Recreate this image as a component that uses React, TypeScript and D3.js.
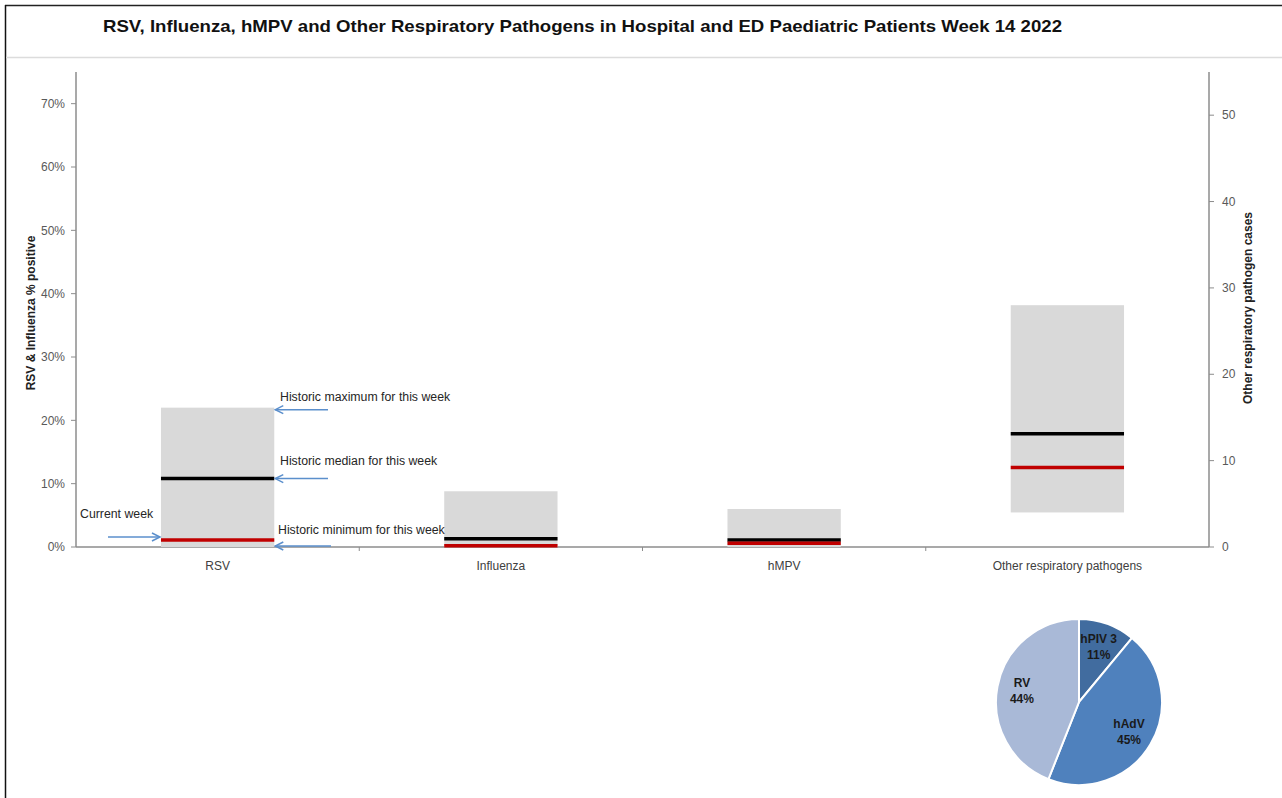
import { useEffect, useRef } from "react";
import * as d3 from "d3";

const categories = ["RSV", "Influenza", "hMPV", "Other respiratory pathogens"];
// which axis each category is read against
const axisSide = ["left", "left", "left", "right"];
const historicMax = [0.22, 0.088, 0.06, 28];
const historicMedian = [0.108, 0.013, 0.011, 13.1];
const historicMin = [0, 0, 0, 4];
const currentWeek = [0.011, 0.002, 0.006, 9.2];

const leftTicks = [0, 0.1, 0.2, 0.3, 0.4, 0.5, 0.6, 0.7];
const rightTicks = [0, 10, 20, 30, 40, 50];

const pieLabels = ["hPIV 3", "hAdV", "RV"];
const pieValues = [11, 45, 44];
const pieColors = ["#416C9F", "#4F81BD", "#A9B9D7"];

const FONT = "'Liberation Sans', Arial, sans-serif";

const App = () => {
  const svgRef = useRef<SVGSVGElement>(null);

  useEffect(() => {
    if (!svgRef.current) return;
    d3.select(svgRef.current).selectAll("*").remove();

    const width = 1282;
    const height = 798;
    const plot = { left: 76, right: 1209, top: 72, bottom: 547 };

    const svg = d3.select(svgRef.current)
      .attr("width", width)
      .attr("height", height)
      .style("font-family", FONT);

    svg.append("rect").attr("width", width).attr("height", height).attr("fill", "#fff");

    // frame
    svg.append("line").attr("x1", 5).attr("x2", width).attr("y1", 5.5).attr("y2", 5.5)
      .attr("stroke", "#222").attr("stroke-width", 1.5);
    svg.append("line").attr("x1", 5.5).attr("x2", 5.5).attr("y1", 5).attr("y2", height)
      .attr("stroke", "#111").attr("stroke-width", 1.5);
    svg.append("line").attr("x1", 6).attr("x2", width).attr("y1", 57.5).attr("y2", 57.5)
      .attr("stroke", "#dcdcdc").attr("stroke-width", 1.5);

    svg.append("text")
      .attr("x", 103).attr("y", 32)
      .attr("textLength", 959).attr("lengthAdjust", "spacingAndGlyphs")
      .style("font-size", "17px").style("font-weight", "700").style("fill", "#111")
      .text("RSV, Influenza, hMPV and Other Respiratory Pathogens in Hospital and ED Paediatric Patients Week 14 2022");

    const yLeft = d3.scaleLinear().domain([0, 0.75]).range([plot.bottom, plot.top]);
    const yRight = d3.scaleLinear().domain([0, 55]).range([plot.bottom, plot.top]);
    const x = d3.scaleBand().domain(categories).range([plot.left, plot.right])
      .paddingInner(0.6).paddingOuter(0.3);
    const step = x.step();
    const yFor = (i: number) => (axisSide[i] === "left" ? yLeft : yRight);

    const axisColor = "#8c8c8c";
    const tickColor = "#595959";

    // left axis
    const gl = svg.append("g");
    gl.append("line").attr("x1", plot.left).attr("x2", plot.left)
      .attr("y1", plot.top).attr("y2", plot.bottom).attr("stroke", axisColor).attr("stroke-width", 1.5);
    leftTicks.forEach(t => {
      gl.append("line").attr("x1", plot.left - 5).attr("x2", plot.left)
        .attr("y1", yLeft(t)).attr("y2", yLeft(t)).attr("stroke", axisColor);
      gl.append("text").attr("x", plot.left - 11).attr("y", yLeft(t)).attr("dy", "0.35em")
        .attr("text-anchor", "end").style("font-size", "12px").style("fill", tickColor)
        .text(d3.format(".0%")(t));
    });

    // right axis
    const gr = svg.append("g");
    gr.append("line").attr("x1", plot.right).attr("x2", plot.right)
      .attr("y1", plot.top).attr("y2", plot.bottom).attr("stroke", axisColor).attr("stroke-width", 1.5);
    rightTicks.forEach(t => {
      gr.append("line").attr("x1", plot.right).attr("x2", plot.right + 5)
        .attr("y1", yRight(t)).attr("y2", yRight(t)).attr("stroke", axisColor);
      gr.append("text").attr("x", plot.right + 13).attr("y", yRight(t)).attr("dy", "0.35em")
        .style("font-size", "12px").style("fill", tickColor).text(t);
    });

    // x axis
    svg.append("line").attr("x1", plot.left).attr("x2", plot.right)
      .attr("y1", plot.bottom).attr("y2", plot.bottom).attr("stroke", axisColor).attr("stroke-width", 1.5);
    categories.forEach((c, i) => {
      if (i > 0) {
        const tx = plot.left + step * i;
        svg.append("line").attr("x1", tx).attr("x2", tx)
          .attr("y1", plot.bottom).attr("y2", plot.bottom + 4).attr("stroke", axisColor);
      }
      svg.append("text").attr("x", x(c)! + x.bandwidth() / 2).attr("y", 570)
        .attr("text-anchor", "middle").style("font-size", "12px").style("fill", "#404040").text(c);
    });

    // axis titles
    svg.append("text").attr("transform", "rotate(-90)")
      .attr("x", -313).attr("y", 35).attr("text-anchor", "middle")
      .style("font-size", "12px").style("font-weight", "700").style("fill", "#222")
      .text("RSV & Influenza % positive");
    svg.append("text").attr("transform", "rotate(-90)")
      .attr("x", -308).attr("y", 1252).attr("text-anchor", "middle")
      .style("font-size", "12px").style("font-weight", "700").style("fill", "#222")
      .text("Other respiratory pathogen cases");

    // floating range bars with median and current week lines
    const bars = svg.append("g");
    categories.forEach((c, i) => {
      const y = yFor(i);
      const bx = x(c)!;
      const bw = x.bandwidth();
      bars.append("rect").attr("x", bx).attr("width", bw)
        .attr("y", y(historicMax[i])).attr("height", y(historicMin[i]) - y(historicMax[i]))
        .attr("fill", "#D9D9D9");
      bars.append("line").attr("x1", bx).attr("x2", bx + bw)
        .attr("y1", y(historicMedian[i])).attr("y2", y(historicMedian[i]))
        .attr("stroke", "#000").attr("stroke-width", 3.5);
      bars.append("line").attr("x1", bx).attr("x2", bx + bw)
        .attr("y1", y(currentWeek[i])).attr("y2", y(currentWeek[i]))
        .attr("stroke", "#C00000").attr("stroke-width", 3.5);
    });

    // annotations on the RSV bar
    const arrowColor = "#5B8FCC";
    const ann = svg.append("g");
    const arrow = (x1: number, x2: number, y: number) => {
      ann.append("line").attr("x1", x1).attr("x2", x2).attr("y1", y).attr("y2", y)
        .attr("stroke", arrowColor).attr("stroke-width", 1.5);
      const d = x2 > x1 ? -1 : 1;
      ann.append("path")
        .attr("d", `M ${x2 + d * 8},${y - 4} L ${x2},${y} L ${x2 + d * 8},${y + 4}`)
        .attr("fill", "none").attr("stroke", arrowColor).attr("stroke-width", 1.5);
    };
    const rsvRight = x("RSV")! + x.bandwidth() + 1;
    const rsvLeft = x("RSV")! - 1;
    const annText = (tx: number, ty: number, s: string) =>
      ann.append("text").attr("x", tx).attr("y", ty)
        .style("font-size", "12.3px").style("fill", "#262626").text(s);

    arrow(328, rsvRight, yLeft(historicMax[0]) + 2);
    annText(280, 401, "Historic maximum for this week");
    arrow(328, rsvRight, yLeft(historicMedian[0]));
    annText(280, 465, "Historic median for this week");
    arrow(331, rsvRight, yLeft(historicMin[0]) - 1);
    annText(278, 534, "Historic minimum for this week");
    arrow(108, rsvLeft, yLeft(currentWeek[0]) - 3);
    annText(80, 518, "Current week");

    // pie of other respiratory pathogens
    const r = 83;
    const pg = svg.append("g").attr("transform", "translate(1079,702)");
    const pie = d3.pie<number>().sort(null).value(d => d);
    const arcs = pie(pieValues);
    const arc = d3.arc<d3.PieArcDatum<number>>().innerRadius(0).outerRadius(r);
    const labelArc = d3.arc<d3.PieArcDatum<number>>().innerRadius(r * 0.7).outerRadius(r * 0.7);
    pg.selectAll("path").data(arcs).join("path")
      .attr("d", arc)
      .attr("fill", (_, i) => pieColors[i])
      .attr("stroke", "#fff").attr("stroke-width", 2);
    arcs.forEach((a, i) => {
      const [cx, cy] = labelArc.centroid(a);
      const t = pg.append("text").attr("text-anchor", "middle")
        .style("font-size", "12px").style("font-weight", "700").style("fill", "#1a1a1a");
      t.append("tspan").attr("x", cx).attr("y", cy - 4).text(pieLabels[i]);
      t.append("tspan").attr("x", cx).attr("y", cy + 12).text(`${pieValues[i]}%`);
    });
  }, []);

  return (
    <div style={{ position: "absolute", left: 0, top: 0 }}>
      <svg ref={svgRef}></svg>
    </div>
  );
};

export default App;
